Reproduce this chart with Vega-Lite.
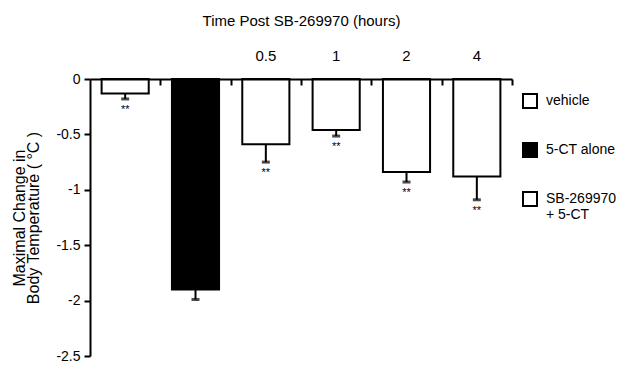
{
  "$schema": "https://vega.github.io/schema/vega-lite/v6.json",
  "autosize": "none",
  "width": 422,
  "height": 277,
  "padding": {"left": 90, "top": 79, "right": 108, "bottom": 9},
  "background": "white",
  "config": {
    "font": "Liberation Sans",
    "view": {"stroke": null},
    "axis": {"labelColor": "black", "titleColor": "black", "domainColor": "black", "tickColor": "black", "grid": false, "titleFontWeight": "normal"}
  },
  "data": {
    "values": [
      {"id": "vehicle", "group": "vehicle", "mean": -0.13, "lower": -0.18, "sig": "**"},
      {"id": "5ct", "group": "5-CT alone", "mean": -1.9, "lower": -1.99, "sig": ""},
      {"id": "0.5", "group": "SB-269970 + 5-CT", "mean": -0.59, "lower": -0.75, "sig": "**"},
      {"id": "1", "group": "SB-269970 + 5-CT", "mean": -0.46, "lower": -0.515, "sig": "**"},
      {"id": "2", "group": "SB-269970 + 5-CT", "mean": -0.84, "lower": -0.93, "sig": "**"},
      {"id": "4", "group": "SB-269970 + 5-CT", "mean": -0.88, "lower": -1.09, "sig": "**"}
    ]
  },
  "resolve": {"axis": {"x": "independent"}},
  "layer": [
    {
      "mark": {"type": "bar", "stroke": "black", "strokeWidth": 2, "width": {"band": 0.67}},
      "encoding": {
        "x": {
          "field": "id", "type": "nominal", "sort": null,
          "scale": {"paddingInner": 0, "paddingOuter": 0},
          "axis": {
            "orient": "top",
            "zindex": 1,
            "title": "Time Post SB-269970 (hours)",
            "titleFontSize": 15,
            "titlePadding": 20,
            "labelAngle": 0,
            "labelFontSize": 15,
            "labelPadding": 16,
            "labelExpr": "(datum.value == 'vehicle' || datum.value == '5ct') ? '' : datum.value",
            "ticks": false,
            "domainWidth": 2
          }
        },
        "y": {
          "field": "mean", "type": "quantitative",
          "scale": {"domain": [-2.5, 0], "nice": false},
          "axis": {
            "values": [-2.5, -2, -1.5, -1, -0.5, 0],
            "labelExpr": "toString(datum.value)",
            "labelFontSize": 14,
            "labelPadding": 4,
            "tickSize": 6,
            "tickWidth": 2,
            "domainWidth": 2,
            "title": ["Maximal Change in", "Body Temperature ( °C )"],
            "titleFontSize": 16,
            "titleLineHeight": 14,
            "titlePadding": 14
          }
        },
        "fill": {
          "field": "group", "type": "nominal",
          "scale": {"domain": ["vehicle", "5-CT alone", "SB-269970 + 5-CT"], "range": ["white", "black", "white"]},
          "legend": {
            "title": null,
            "orient": "none",
            "legendX": 432,
            "legendY": 14,
            "symbolType": "square",
            "symbolSize": 196,
            "symbolStrokeColor": "black",
            "symbolStrokeWidth": 2,
            "symbolOpacity": 1,
            "labelFontSize": 14,
            "labelColor": "black",
            "labelOffset": 8,
            "rowPadding": 27,
            "labelExpr": "datum.label == 'SB-269970 + 5-CT' ? ['SB-269970', '+ 5-CT'] : datum.label"
          }
        }
      }
    },
    {
      "mark": {"type": "rule", "color": "black", "strokeWidth": 2},
      "encoding": {
        "x": {
          "field": "id", "type": "nominal", "sort": null,
          "axis": {
            "orient": "bottom",
            "offset": -277,
            "zindex": 2,
            "title": null,
            "labels": false,
            "domain": false,
            "ticks": true,
            "tickBand": "center",
            "tickOffset": 35.17,
            "tickSize": 6,
            "tickWidth": 2,
            "tickColor": "black",
            "tickOpacity": 1
          }
        },
        "y": {"field": "mean", "type": "quantitative"},
        "y2": {"field": "lower"}
      }
    },
    {
      "mark": {"type": "tick", "color": "black", "thickness": 3, "size": 8, "orient": "horizontal"},
      "encoding": {
        "x": {"field": "id", "type": "nominal", "sort": null, "axis": null},
        "y": {"field": "lower", "type": "quantitative"}
      }
    },
    {
      "mark": {"type": "text", "color": "black", "fontSize": 11, "baseline": "middle", "dy": 11},
      "encoding": {
        "x": {"field": "id", "type": "nominal", "sort": null, "axis": null},
        "y": {"field": "lower", "type": "quantitative"},
        "text": {"field": "sig"}
      }
    }
  ]
}
